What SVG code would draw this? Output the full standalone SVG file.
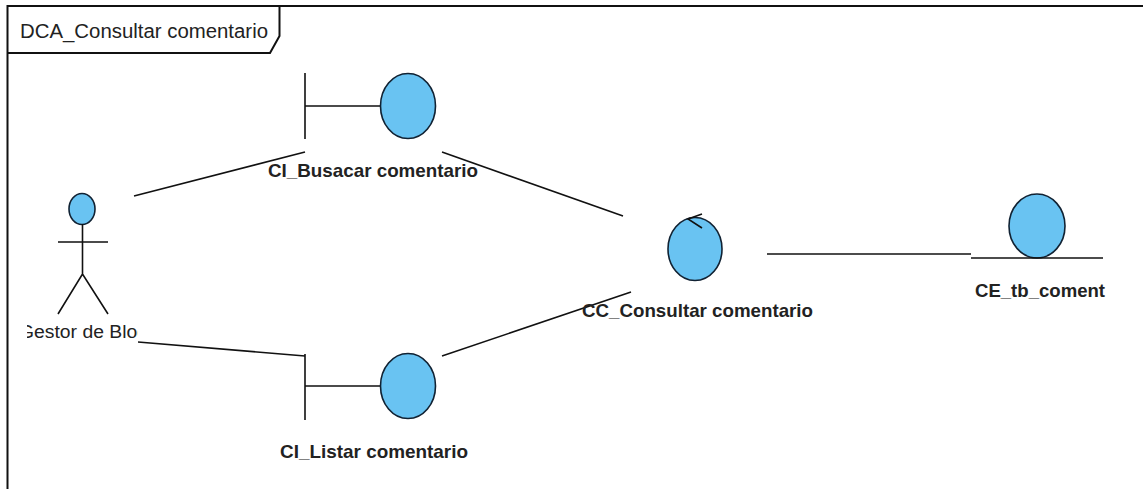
<svg xmlns="http://www.w3.org/2000/svg" width="1143" height="489" viewBox="0 0 1143 489">
<style>
.l{fill:none;stroke:#111;stroke-width:1.6}
.f{fill:none;stroke:#111;stroke-width:2}
.b{fill:#69c3f2;stroke:#123;stroke-width:1.6}
text{font-family:"Liberation Sans",Arial,sans-serif;fill:#222}
.n{font-size:19px;font-weight:bold;text-anchor:start}
</style>
<defs><clipPath id="ac"><rect x="27" y="315" width="111" height="30"/></clipPath></defs>
<rect width="1143" height="489" fill="#fff"/>
<g id="frame">
<path class="f" d="M7.500 489V6H1143"/>
<path class="f" d="M7.500 53H270L279.500 36V6"/>
<text x="20" y="38" font-size="20" textLength="248" lengthAdjust="spacingAndGlyphs">DCA_Consultar comentario</text>
</g>
<g id="connectors">
<path class="l" d="M134 196L305 152"/>
<path class="l" d="M442 152L623 216"/>
<path class="l" d="M138 342L305 356"/>
<path class="l" d="M442 356L631 292"/>
<path class="l" d="M767 254H971"/>
</g>
<g id="actor">
<ellipse class="b" cx="82" cy="209" rx="13" ry="15.500"/>
<path class="l" d="M82.500 224V274M58 242H108M58 314L82.500 274L108 314"/>
<text x="19" y="338" font-size="18" textLength="129" lengthAdjust="spacingAndGlyphs" clip-path="url(#ac)">Gestor de Blog</text>
</g>
<g id="ci-buscar">
<path class="l" d="M305 73V139M305 106H380"/>
<ellipse class="b" cx="408" cy="106" rx="27.500" ry="32.500"/>
<text class="n" x="268" y="177" textLength="210" lengthAdjust="spacingAndGlyphs">CI_Busacar comentario</text>
</g>
<g id="ci-listar">
<path class="l" d="M305 354V420M305 386H380"/>
<ellipse class="b" cx="408" cy="386" rx="27.500" ry="32.500"/>
<text class="n" x="280" y="458" textLength="188" lengthAdjust="spacingAndGlyphs">CI_Listar comentario</text>
</g>
<g id="cc-consultar">
<ellipse class="b" cx="695" cy="249" rx="27" ry="31.500"/>
<path class="l" d="M702 214L688 219L702 228"/>
<text class="n" x="582" y="317" textLength="231" lengthAdjust="spacingAndGlyphs">CC_Consultar comentario</text>
</g>
<g id="ce-coment">
<ellipse class="b" cx="1037" cy="226" rx="28" ry="32"/>
<path class="l" d="M971 258H1103"/>
<text class="n" x="975" y="297" textLength="130" lengthAdjust="spacingAndGlyphs">CE_tb_coment</text>
</g>
</svg>
